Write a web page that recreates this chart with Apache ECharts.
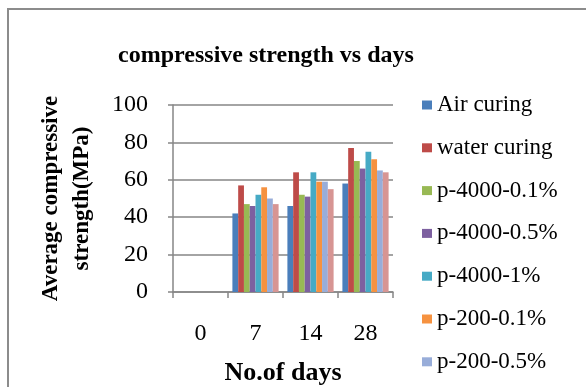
<!DOCTYPE html>
<html>
<head>
<meta charset="utf-8">
<script src="https://cdn.jsdelivr.net/npm/echarts@6/dist/echarts.min.js"></script>
<style>
html,body{margin:0;padding:0;background:#fff;overflow:hidden;}
#main{width:586px;height:387px;}
</style>
</head>
<body>
<div id="main"></div>
<script>
const categories = ['0', '7', '14', '28'];
const seriesNames = ['Air curing', 'water curing', 'p-4000-0.1%', 'p-4000-0.5%', 'p-4000-1%', 'p-200-0.1%', 'p-200-0.5%', 'p-200-1%'];
const airCuring   = [0, 42, 46, 58];
const waterCuring = [0, 57, 64, 77];
const p4000_01    = [0, 47, 52, 70];
const p4000_05    = [0, 46, 51, 66];
const p4000_1     = [0, 52, 64, 75];
const p200_01     = [0, 56, 59, 71];
const p200_05     = [0, 50, 59, 65];
const p200_1      = [0, 47, 55, 64];
const yTicks = [0, 20, 40, 60, 80, 100];
const colors = ['#4A7EBB', '#BE4B48', '#98B954', '#7D60A0', '#46AAC5', '#F69240', '#98ADD9', '#D79593'];

const values = [airCuring, waterCuring, p4000_01, p4000_05, p4000_1, p200_01, p200_05, p200_1];
const font = '"Liberation Serif", "Times New Roman", serif';
const chart = echarts.init(document.getElementById('main'));
chart.setOption({
  animation: false,
  color: colors,
  graphic: [{
    type: 'rect', silent: true, z: -10,
    shape: {x: 8, y: 9, width: 700, height: 500},
    style: {fill: 'none', stroke: '#8c8c8c', lineWidth: 2}
  }],
  title: {
    text: 'compressive strength vs days',
    left: 261, top: 39, textAlign: 'center',
    textStyle: {fontFamily: font, fontSize: 24, fontWeight: 'bold', color: '#000'}
  },
  legend: {
    orient: 'vertical', left: 422, top: 93, padding: 0,
    itemWidth: 10, itemHeight: 9, itemGap: 18.8,
    icon: 'rect',
    data: seriesNames.slice(0, 7),
    textStyle: {fontFamily: font, fontSize: 23, color: '#000', lineHeight: 24}
  },
  grid: {left: 173, right: 193, top: 105, bottom: 94, containLabel: false},
  xAxis: {
    type: 'category', data: categories,
    name: 'No.of days', nameLocation: 'middle', nameGap: 68,
    nameTextStyle: {fontFamily: font, fontSize: 26, fontWeight: 'bold', color: '#000'},
    axisLine: {lineStyle: {color: '#868686', width: 1.5}},
    axisTick: {show: true, length: 6, lineStyle: {color: '#868686', width: 1.5}},
    axisLabel: {fontFamily: font, fontSize: 24, color: '#000', margin: 30}
  },
  yAxis: {
    type: 'value', min: 0, max: 100, interval: 20,
    name: 'Average compressive\nstrength(MPa)', nameLocation: 'middle', nameGap: 75,
    nameTextStyle: {fontFamily: font, fontSize: 23, fontWeight: 'bold', color: '#000', lineHeight: 31},
    axisLine: {show: true, lineStyle: {color: '#868686', width: 1.5}},
    axisTick: {show: true, length: 5, lineStyle: {color: '#868686', width: 1.5}},
    splitLine: {lineStyle: {color: '#868686', width: 1.5}},
    axisLabel: {fontFamily: font, fontSize: 24, color: '#000', margin: 25,
      formatter: v => yTicks.includes(v) ? String(v) : ''}
  },
  series: seriesNames.map((n, i) => ({
    name: n, type: 'bar', data: values[i],
    barGap: '0%', barCategoryGap: '16%'
  }))
});
</script>
</body>
</html>
